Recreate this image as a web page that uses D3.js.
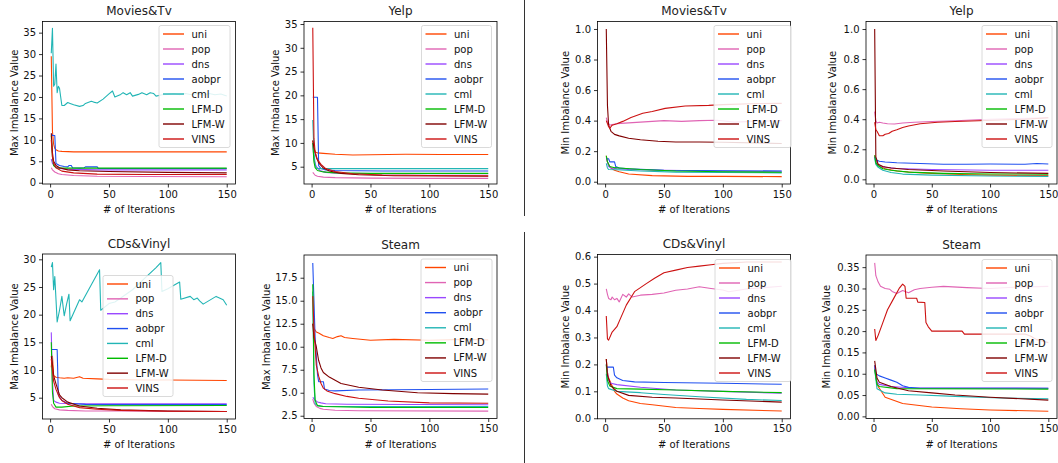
<!DOCTYPE html>
<html><head><meta charset="utf-8">
<script src="https://cdn.jsdelivr.net/npm/d3@7/dist/d3.min.js"></script>
<style>body{margin:0;background:#fff}svg{display:block;font-family:"DejaVu Sans",sans-serif}</style>
</head><body><svg id="c" width="1058" height="463"></svg>
<script>
const methods = ["uni","pop","dns","aobpr","cml","LFM-D","LFM-W","VINS"];
const colors = ["#ff4500","#e064b4","#9a48ff","#2050f0","#22b5b5","#00bb00","#800000","#cc1111"];
const xTicks = [0,50,100,150];
const xDomain = [-6.45,157.45];

// Max imbalance, Movies&Tv  (series order = methods)
const maxMovies = [
 [[1,29.5],[2,12],[3,9],[4,8],[5,7.7],[7,7.4],[10,7.3],[20,7.2],[50,7.2],[100,7.2],[150,7.2]],
 [[1,3.5],[2,3],[4,2.5],[7,2.1],[10,1.9],[20,1.7],[40,1.5],[80,1.45],[150,1.4]],
 [[1,5.5],[2,4.5],[4,3.8],[7,3.4],[12,3.2],[20,3.1],[40,3.0],[150,3.0]],
 [[1,11.5],[2,11],[4,11],[5,4.5],[8,4.0],[12,3.8],[15,3.7],[16,4.0],[18,4.0],[19,3.5],[25,3.4],[29,3.5],[30,3.7],[40,3.7],[41,3.3],[60,3.3],[100,3.3],[150,3.3]],
 [[1,30.2],[2,36],[3,22.5],[4,23],[5,27.7],[6,21],[7,22.5],[8,22],[9,20],[10,18],[12,18],[15,18.7],[17,18.5],[20,18.2],[25,17.8],[28,18],[30,18.5],[35,19],[37,18.8],[40,18.6],[45,19.5],[50,20.7],[53,21.4],[55,20],[60,20.6],[62,21],[65,20.5],[68,21],[70,20.2],[75,20.6],[78,21],[82,20.5],[85,21],[88,20.8],[90,20.2],[95,20.5],[100,20.6],[105,20.8],[110,20.5],[115,20.8],[120,20.5],[125,20.8],[130,20.4],[135,20.8],[140,20.5],[145,20.7],[150,20.2]],
 [[1,11],[2,6],[3,4],[5,3.5],[10,3.4],[50,3.4],[150,3.4]],
 [[1,11.5],[2,7],[3,5],[5,4],[8,3.5],[15,3],[25,2.8],[50,2.6],[100,2.4],[150,2.3]],
 [[1,10],[2,6],[3,4.5],[5,3.5],[10,2.7],[20,2.3],[40,2.0],[80,1.9],[150,1.9]]
];
// Max imbalance, Yelp
const maxYelp = [
 [[1,10.5],[2,9],[3,8.1],[5,7.9],[10,7.8],[20,7.6],[35,7.45],[50,7.5],[80,7.6],[110,7.55],[150,7.55]],
 [[1,3.8],[3,3.2],[5,3.0],[10,2.8],[20,2.7],[50,2.6],[100,2.55],[150,2.55]],
 [[1,10],[2,6.5],[4,5],[7,4.2],[12,3.8],[25,3.6],[50,3.5],[150,3.5]],
 [[1,19.6],[5,19.6],[6,5.2],[8,4.6],[12,4.3],[20,4.2],[60,4.1],[150,4.1]],
 [[1,14.8],[2,8],[3,5.5],[4,4.7],[6,4.6],[150,4.6]],
 [[1,10],[2,6],[3,4.8],[5,4.2],[10,3.9],[20,3.7],[50,3.6],[150,3.6]],
 [[1,10.5],[2,9],[4,7],[6,5.8],[10,4.7],[15,4.1],[25,3.6],[40,3.3],[70,3.1],[150,3.0]],
 [[1,34.2],[2,11],[3,8],[5,6.5],[8,5.5],[12,4.6],[20,4.0],[35,3.5],[60,3.25],[100,3.15],[150,3.1]]
];
// Min imbalance, Movies&Tv
const minMovies = [
 [[1,0.17],[2,0.13],[3,0.11],[5,0.09],[8,0.075],[12,0.065],[20,0.05],[40,0.04],[70,0.035],[100,0.035],[150,0.033]],
 [[1,0.42],[2,0.39],[4,0.37],[6,0.375],[10,0.38],[20,0.385],[30,0.39],[40,0.395],[50,0.4],[65,0.395],[80,0.4],[95,0.402],[110,0.39],[125,0.395],[150,0.4]],
 [[1,0.16],[3,0.1],[5,0.09],[10,0.085],[20,0.08],[50,0.075],[100,0.07],[150,0.068]],
 [[1,0.15],[3,0.15],[4,0.13],[8,0.13],[9,0.1],[12,0.09],[20,0.085],[50,0.075],[100,0.072],[150,0.07]],
 [[1,0.12],[2,0.09],[3,0.08],[10,0.078],[30,0.07],[60,0.063],[100,0.06],[150,0.058]],
 [[1,0.17],[2,0.13],[4,0.1],[8,0.092],[15,0.088],[30,0.08],[60,0.07],[100,0.065],[150,0.062]],
 [[1,1.0],[2,0.5],[3,0.37],[5,0.33],[8,0.31],[12,0.3],[20,0.285],[30,0.275],[45,0.265],[60,0.26],[80,0.26],[100,0.258],[150,0.25]],
 [[1,0.4],[2,0.38],[3,0.36],[4,0.35],[6,0.37],[10,0.38],[15,0.395],[22,0.42],[32,0.448],[40,0.46],[51,0.48],[68,0.496],[88,0.5],[100,0.505],[130,0.512],[150,0.513]]
];
// Min imbalance, Yelp
const minYelp = [
 [[1,0.16],[2,0.13],[3,0.11],[5,0.09],[10,0.07],[20,0.055],[35,0.045],[50,0.04],[75,0.032],[100,0.028],[150,0.025]],
 [[1,0.45],[2,0.39],[3,0.375],[5,0.38],[8,0.375],[12,0.37],[18,0.368],[25,0.375],[35,0.38],[50,0.385],[70,0.39],[100,0.4],[125,0.405],[150,0.41]],
 [[1,0.15],[3,0.1],[5,0.09],[10,0.08],[20,0.072],[50,0.065],[100,0.06],[150,0.06]],
 [[1,0.15],[2,0.13],[5,0.12],[10,0.115],[20,0.11],[40,0.105],[60,0.1],[80,0.1],[100,0.102],[130,0.1],[140,0.105],[150,0.102]],
 [[1,0.14],[2,0.1],[4,0.08],[8,0.06],[15,0.045],[25,0.035],[50,0.028],[100,0.022],[150,0.02]],
 [[1,0.16],[2,0.11],[4,0.09],[8,0.07],[15,0.06],[30,0.048],[60,0.04],[100,0.036],[150,0.034]],
 [[1,1.0],[2,0.15],[4,0.1],[8,0.085],[15,0.075],[30,0.065],[60,0.055],[100,0.045],[150,0.04]],
 [[1,0.38],[2,0.33],[3,0.32],[5,0.29],[8,0.29],[10,0.3],[13,0.305],[16,0.32],[20,0.33],[25,0.345],[30,0.355],[40,0.37],[55,0.38],[70,0.385],[90,0.39],[110,0.395],[130,0.4],[150,0.41]]
];
// Max imbalance, CDs&Vinyl
const maxCds = [
 [[1,10.5],[2,12.5],[3,9],[5,8.7],[8,8.6],[12,8.5],[15,8.6],[20,8.5],[25,8.8],[28,8.5],[40,8.4],[50,8.3],[80,8.2],[100,8.2],[150,8.1]],
 [[1,3.8],[2,3.4],[4,3.0],[8,2.8],[15,2.7],[30,2.6],[60,2.6],[100,2.55],[150,2.5]],
 [[1,16.8],[2,8],[3,4.5],[5,4.2],[8,4.0],[20,3.9],[50,3.9],[150,3.9]],
 [[1,13.7],[6,13.7],[7,5.5],[10,4.5],[15,4.0],[30,3.8],[50,3.75],[150,3.75]],
 [[1,28.6],[2,29.4],[3,24.5],[4,26.9],[6,18.7],[8,20.8],[10,23.3],[12,19.8],[14,21.9],[16,23.7],[17,18.9],[25,22.7],[27,22.3],[42,28.1],[43,20.8],[50,22],[55,22.3],[60,23],[70,24.5],[80,26.5],[90,28.5],[94,29.4],[95,24.2],[100,24.7],[110,25.9],[111,22.8],[119,23.3],[122,22.7],[125,23],[127,22.5],[130,21.9],[141,23.3],[147,22.7],[150,21.7]],
 [[1,15],[2,6],[3,4],[5,3.3],[10,3.3],[20,3.5],[50,3.55],[150,3.6]],
 [[1,12.5],[2,11],[3,9],[5,7.5],[8,5.5],[10,5],[15,4.2],[25,3.5],[40,3.1],[60,2.8],[100,2.6],[150,2.5]],
 [[1,12],[2,10],[3,8],[5,6.5],[8,5],[10,4.5],[15,3.8],[25,3.2],[40,2.9],[60,2.7],[100,2.55],[150,2.5]]
];
// Max imbalance, Steam
const maxSteam = [
 [[1,12.5],[2,12],[4,11.6],[6,11.5],[10,11.2],[15,11.0],[18,10.9],[22,11.1],[25,11.2],[28,11.0],[35,10.9],[50,10.7],[70,10.8],[100,10.7],[130,10.8],[150,10.75]],
 [[1,4.3],[2,3.9],[4,3.5],[7,3.3],[10,3.2],[20,3.1],[40,3.05],[150,3.0]],
 [[1,4.5],[3,4.2],[5,4.0],[8,3.9],[12,3.8],[30,3.75],[150,3.7]],
 [[1,19.1],[2,15],[3,11],[5,7],[6,6.2],[10,6.2],[11,5.4],[15,5.25],[20,5.2],[40,5.3],[100,5.35],[150,5.4]],
 [[1,16],[2,6],[3,3.8],[5,3.6],[10,3.5],[150,3.5]],
 [[1,16.8],[2,7],[3,4.2],[5,3.6],[10,3.5],[50,3.4],[150,3.4]],
 [[1,12.5],[2,11],[4,10],[6,8.5],[8,7.7],[10,7.2],[15,6.7],[25,6.0],[40,5.6],[60,5.3],[90,5.0],[120,4.9],[150,4.85]],
 [[1,15.5],[2,12],[3,10],[4,8],[6,6.8],[8,6.0],[10,5.5],[13,5.2],[20,4.9],[30,4.6],[40,4.4],[65,4.1],[100,3.9],[150,3.85]]
];
// Min imbalance, CDs&Vinyl
const minCds = [
 [[1,0.22],[2,0.17],[3,0.15],[5,0.13],[8,0.1],[10,0.09],[15,0.075],[20,0.065],[30,0.055],[40,0.05],[60,0.04],[80,0.036],[100,0.033],[150,0.027]],
 [[1,0.48],[2,0.46],[3,0.445],[5,0.44],[6,0.45],[8,0.44],[10,0.445],[12,0.432],[15,0.46],[18,0.45],[20,0.462],[23,0.45],[30,0.457],[40,0.46],[50,0.465],[60,0.475],[70,0.48],[80,0.488],[90,0.482],[100,0.476],[105,0.47],[120,0.48],[135,0.485],[150,0.49]],
 [[1,0.2],[3,0.14],[5,0.13],[10,0.125],[30,0.115],[60,0.105],[100,0.1],[150,0.093]],
 [[1,0.19],[7,0.19],[8,0.16],[10,0.15],[15,0.14],[25,0.135],[50,0.133],[100,0.13],[150,0.126]],
 [[1,0.165],[2,0.12],[3,0.11],[10,0.1],[30,0.095],[50,0.088],[80,0.08],[120,0.07],[150,0.066]],
 [[1,0.2],[2,0.14],[4,0.12],[10,0.11],[30,0.108],[60,0.105],[100,0.1],[150,0.095]],
 [[1,0.22],[2,0.16],[5,0.12],[10,0.1],[20,0.085],[40,0.078],[60,0.075],[100,0.068],[150,0.06]],
 [[1,0.38],[2,0.295],[3,0.29],[6,0.32],[10,0.34],[13,0.37],[18,0.42],[25,0.47],[35,0.5],[42,0.52],[50,0.54],[60,0.55],[70,0.56],[80,0.565],[90,0.57],[100,0.575],[120,0.58],[150,0.58]]
];
// Min imbalance, Steam
const minSteam = [
 [[1,0.12],[2,0.09],[4,0.07],[10,0.045],[25,0.03],[50,0.022],[75,0.018],[100,0.015],[150,0.012]],
 [[1,0.36],[2,0.33],[4,0.315],[6,0.305],[10,0.3],[14,0.298],[16,0.293],[20,0.288],[25,0.295],[30,0.29],[35,0.297],[40,0.3],[50,0.303],[60,0.305],[80,0.302],[100,0.3],[120,0.303],[150,0.305]],
 [[1,0.115],[3,0.08],[5,0.075],[15,0.07],[30,0.067],[150,0.066]],
 [[1,0.12],[2,0.1],[5,0.095],[10,0.09],[15,0.085],[20,0.08],[25,0.072],[30,0.068],[40,0.066],[150,0.066]],
 [[1,0.11],[3,0.065],[10,0.055],[20,0.052],[40,0.05],[70,0.047],[110,0.043],[150,0.041]],
 [[1,0.11],[3,0.075],[5,0.07],[20,0.065],[150,0.064]],
 [[1,0.13],[3,0.09],[5,0.08],[15,0.07],[30,0.06],[50,0.055],[70,0.05],[100,0.045],[150,0.038]],
 [[1,0.205],[2,0.178],[4,0.19],[8,0.22],[12,0.25],[17,0.275],[22,0.3],[25,0.31],[27,0.305],[28,0.277],[37,0.277],[38,0.268],[44,0.267],[45,0.22],[47,0.21],[50,0.2],[76,0.2],[78,0.193],[130,0.193],[135,0.188],[140,0.18],[150,0.173]]
];

const ticksMaxMovies = [0,5,10,15,20,25,30,35];
const ticksMaxYelp = [5,10,15,20,25,30,35];
const ticksMin1 = [0,0.2,0.4,0.6,0.8,1.0];
const ticksMaxCds = [5,10,15,20,25,30];
const ticksMaxSteam = [2.5,5,7.5,10,12.5,15,17.5];
const ticksMinCds = [0,0.1,0.2,0.3,0.4,0.5,0.6];
const ticksMinSteam = [0,0.05,0.1,0.15,0.2,0.25,0.3,0.35];

const panels = [
 {title:"Movies&Tv", ylab:"Max Imbalance Value", data:maxMovies, yDom:[-0.3,37.6], ticks:ticksMaxMovies, fmt:d3.format("d"), f:[42.5,21.5,235.5,184], ylx:14, leg:[159,25.5,71,122]},
 {title:"Yelp", ylab:"Max Imbalance Value", data:maxYelp, yDom:[1.36,35.53], ticks:ticksMaxYelp, fmt:d3.format("d"), f:[304,21.5,497,184], ylx:275.7, leg:[421.5,25.5,70,122]},
 {title:"Movies&Tv", ylab:"Min Imbalance Value", data:minMovies, yDom:[-0.015,1.049], ticks:ticksMin1, fmt:d3.format(".1f"), f:[597.5,21.5,790.5,184], ylx:565.7, leg:[714,25.5,77,122]},
 {title:"Yelp", ylab:"Min Imbalance Value", data:minYelp, yDom:[-0.031,1.05], ticks:ticksMin1, fmt:d3.format(".1f"), f:[866,21.5,1057,184], ylx:832.7, leg:[982,25.5,70,122]},
 {title:"CDs&Vinyl", ylab:"Max Imbalance Value", data:maxCds, yDom:[1.15,30.96], ticks:ticksMaxCds, fmt:d3.format("d"), f:[42.5,254,235.5,419], ylx:14, leg:[103,275.5,70,121]},
 {title:"Steam", ylab:"Max Imbalance Value", data:maxSteam, yDom:[2.2,19.97], ticks:ticksMaxSteam, fmt:d3.format(".1f"), f:[304,255,497,418.5], ylx:266.7, leg:[421,259,71,122.5]},
 {title:"CDs&Vinyl", ylab:"Min Imbalance Value", data:minCds, yDom:[-0.002,0.608], ticks:ticksMinCds, fmt:d3.format(".1f"), f:[597.5,254.5,790.5,418.8], ylx:565.7, leg:[715,259.5,76,122]},
 {title:"Steam", ylab:"Min Imbalance Value", data:minSteam, yDom:[-0.005,0.3785], ticks:ticksMinSteam, fmt:d3.format(".2f"), f:[866,255,1057,418.5], ylx:826.7, leg:[982,259.5,70,122]}
];

const svg = d3.select("#c");
svg.append("rect").attr("width",1058).attr("height",463).attr("fill","#fff");

panels.forEach((p,i)=>{
  const [l,t,r,b] = p.f;
  const x = d3.scaleLinear().domain(xDomain).range([l,r]);
  const y = d3.scaleLinear().domain(p.yDom).range([b,t]);
  const g = svg.append("g");
  const cid = "clip"+i;
  svg.append("clipPath").attr("id",cid).append("rect").attr("x",l).attr("y",t).attr("width",r-l).attr("height",b-t);

  const line = d3.line().x(d=>x(d[0])).y(d=>y(d[1]));
  const lg = g.append("g").attr("clip-path",`url(#${cid})`);
  p.data.forEach((s,k)=>{
    lg.append("path").attr("d",line(s)).attr("fill","none")
      .attr("stroke",colors[k]).attr("stroke-width",1.1).attr("stroke-linejoin","round");
  });

  const xa = g.append("g").attr("transform",`translate(0,${b})`)
    .call(d3.axisBottom(x).tickValues(xTicks).tickSize(3.5).tickPadding(3).tickFormat(d3.format("d")));
  const ya = g.append("g").attr("transform",`translate(${l},0)`)
    .call(d3.axisLeft(y).tickValues(p.ticks).tickSize(3.5).tickPadding(3).tickFormat(p.fmt));
  [xa,ya].forEach(a=>{
    a.select(".domain").remove();
    a.selectAll("line").attr("stroke","#000").attr("stroke-width",0.8);
    a.selectAll("text").attr("font-size",10).attr("fill","#111").attr("font-family","DejaVu Sans");
  });

  g.append("rect").attr("x",l).attr("y",t).attr("width",r-l).attr("height",b-t)
    .attr("fill","none").attr("stroke","#000").attr("stroke-width",0.8);

  g.append("text").attr("x",(l+r)/2).attr("y",t-6.5).attr("text-anchor","middle")
    .attr("font-size",12).attr("fill","#222").text(p.title);
  g.append("text").attr("x",(l+r)/2).attr("y",b+29).attr("text-anchor","middle")
    .attr("font-size",10).attr("fill","#111").text("# of Iterations");
  g.append("text").attr("transform",`translate(${p.ylx},${(t+b)/2}) rotate(-90)`)
    .attr("text-anchor","middle").attr("dy","0.35em")
    .attr("font-size",10).attr("fill","#111").text(p.ylab);

  const [lx,ly,lw,lh] = p.leg;
  const leg = g.append("g");
  leg.append("rect").attr("x",lx).attr("y",ly).attr("width",lw).attr("height",lh)
    .attr("rx",2).attr("fill","#fff").attr("fill-opacity",0.85).attr("stroke","#d0d0d0").attr("stroke-width",0.8);
  const step = (lh-17)/7;
  methods.forEach((m,k)=>{
    const yy = ly+8.5+k*step;
    leg.append("line").attr("x1",lx+4).attr("x2",lx+25).attr("y1",yy).attr("y2",yy)
      .attr("stroke",colors[k]).attr("stroke-width",1.4);
    leg.append("text").attr("x",lx+32.5).attr("y",yy).attr("dy","0.35em")
      .attr("font-size",10).attr("fill","#111").text(m);
  });
});

// separators between the two groups
svg.append("line").attr("x1",524.5).attr("x2",524.5).attr("y1",0).attr("y2",216).attr("stroke","#333").attr("stroke-width",1);
svg.append("line").attr("x1",524.5).attr("x2",524.5).attr("y1",232).attr("y2",463).attr("stroke","#333").attr("stroke-width",1);
</script></body></html>
